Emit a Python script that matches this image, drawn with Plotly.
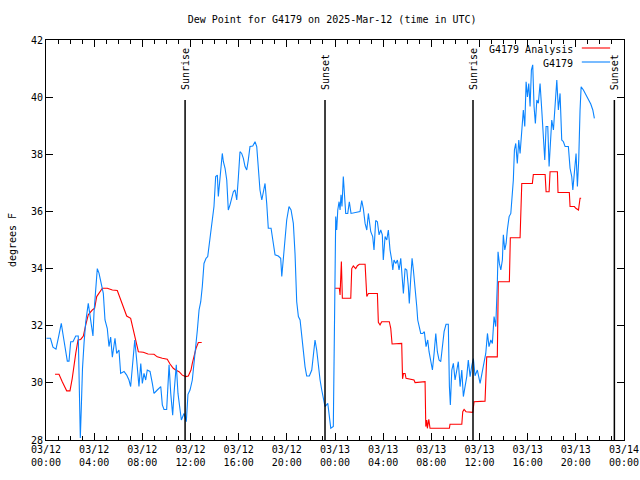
import pandas as pd
import plotly.graph_objects as go

# ---- data (hours after 2025-03-12 00:00 UTC, dew point in deg F) ----
obs_hours = [0.04, 0.37, 0.58, 0.83, 1.04, 1.27, 1.41, 1.58, 1.77, 1.91, 2.05, 2.24, 2.47, 2.68, 2.85, 2.93,
             3.03, 3.16, 3.30, 3.51, 3.71, 3.90, 3.99, 4.13, 4.26, 4.40, 4.54, 4.76, 4.90, 5.09, 5.23, 5.37,
             5.51, 5.73, 5.87, 6.06, 6.20, 6.48, 6.70, 6.89, 7.03, 7.17, 7.37, 7.53, 7.72, 7.87, 8.00, 8.14,
             8.28, 8.41, 8.64, 8.83, 8.97, 9.24, 9.53, 9.66, 9.80, 10.02, 10.22, 10.36, 10.52, 10.63, 10.82,
             10.96, 11.10, 11.24, 11.46, 11.65, 11.79, 11.96, 12.15, 12.27, 12.43, 12.57, 12.71, 12.85, 12.98,
             13.12, 13.29, 13.43, 13.62, 13.76, 13.95, 14.09, 14.23, 14.31, 14.45, 14.64, 14.73, 14.87, 15.01,
             15.14, 15.28, 15.42, 15.56, 15.70, 15.84, 15.97, 16.11, 16.25, 16.39, 16.53, 16.67, 16.80, 16.94,
             17.17, 17.36, 17.50, 17.63, 17.77, 17.92, 18.05, 18.19, 18.33, 18.46, 18.69, 18.88, 19.02, 19.29,
             19.49, 19.58, 19.71, 19.85, 19.99, 20.18, 20.35, 20.54, 20.68, 20.82, 20.96, 21.10, 21.24, 21.37,
             21.51, 21.65, 21.87, 22.07, 22.20, 22.34, 22.48, 22.62, 22.76, 22.90, 23.03, 23.17, 23.40, 23.53,
             23.65, 23.86, 23.92, 23.98, 24.06, 24.14, 24.23, 24.34, 24.42, 24.50, 24.58, 24.69, 24.78, 24.89,
             25.06, 25.19, 25.33, 26.08, 26.22, 26.35, 26.50, 26.64, 26.77, 26.85, 26.97, 27.13, 27.24, 27.38,
             27.52, 27.66, 27.80, 27.93, 28.01, 28.16, 28.30, 28.43, 28.57, 28.71, 28.80, 28.90, 29.05, 29.18,
             29.32, 29.46, 29.59, 29.68, 29.82, 29.96, 30.09, 30.17, 30.29, 30.40, 30.51, 30.65, 30.79, 30.87,
             30.98, 31.12, 31.29, 31.42, 31.56, 31.70, 31.81, 31.95, 32.09, 32.23, 32.37, 32.50, 32.64, 32.78,
             32.92, 33.06, 33.22, 33.41, 33.50, 33.58, 33.70, 33.83, 33.97, 34.11, 34.24, 34.39, 34.53, 34.66,
             34.80, 34.94, 35.07, 35.22, 35.36, 35.49, 35.63, 35.82, 36.05, 36.24, 36.38, 36.52, 36.66, 36.79,
             36.94, 37.07, 37.21, 37.35, 37.48, 37.54, 37.65, 37.77, 37.90, 37.98, 38.10, 38.21, 38.31, 38.46,
             38.60, 38.73, 38.81, 38.90, 39.01, 39.14, 39.26, 39.37, 39.51, 39.64, 39.76, 39.87, 39.98, 40.09,
             40.20, 40.31, 40.42, 40.53, 40.64, 40.76, 40.89, 41.03, 41.17, 41.30, 41.42, 41.53, 41.67, 41.78,
             41.89, 42.00, 42.14, 42.28, 42.42, 42.55, 42.69, 42.83, 42.97, 43.11, 43.38, 43.52, 43.66, 43.75,
             43.85, 44.02, 44.13, 44.24, 44.35, 44.44, 44.63, 44.85, 45.04, 45.24, 45.41, 45.54]
obs_dewpt = [31.56, 31.56, 31.25, 31.18, 31.6, 32.08, 31.7, 31.2, 30.76, 30.76, 31.44, 31.44, 31.64, 31.64, 28.07, 29.1,
             30.5, 31.4, 32.14, 32.78, 32.27, 31.64, 32.49, 33.13, 34.0, 33.84, 33.54, 33.13, 32.2, 31.9, 31.27, 31.6,
             30.9, 31.56, 31.03, 31.15, 30.33, 30.4, 30.27, 30.1, 29.87, 30.63, 31.5, 30.8, 29.87, 30.68, 29.98, 30.33,
             30.1, 30.45, 30.4, 29.98, 29.63, 29.75, 29.87, 29.23, 29.07, 29.07, 30.63, 29.63, 28.87, 29.63, 30.63,
             29.63, 29.17, 28.7, 28.93, 28.64, 29.6, 29.75, 30.1, 30.57, 31.27, 31.85, 32.55, 32.84, 33.37,
             34.18, 34.36, 34.42, 35.06, 35.47, 36.17, 37.22, 37.27, 36.52, 37.16, 38.03, 37.74, 37.51, 37.1,
             36.05, 36.23, 36.52, 36.69, 36.75, 36.4, 37.16, 38.09, 38.03, 37.86, 37.57, 37.45, 37.8, 38.27,
             38.29, 38.44, 38.27, 37.51, 36.75, 36.4, 36.75, 36.98, 36.28, 35.41, 35.41, 34.88, 34.48, 34.44,
             34.36, 33.72, 34.36, 34.88, 35.7, 36.17, 36.05, 35.58, 34.53, 32.84, 32.32, 32.2, 31.62, 31.03,
             30.57, 30.24, 30.24, 30.45, 30.91, 31.5, 31.15, 30.57, 30.1, 29.75, 29.4, 29.17, 29.28, 28.82,
             28.41, 28.47, 31.38, 34.88, 35.82, 35.35, 36.05, 36.34, 36.05, 36.58, 36.17, 37.22, 36.63, 35.93,
             35.93, 36.34, 35.93, 36.0, 36.38, 36.11, 35.58, 35.35, 35.93, 35.58, 35.29, 35.12, 34.65, 35.68,
             35.64, 35.18, 35.35, 35.18, 34.3, 35.12, 35.0, 35.35, 34.65, 34.3, 33.95, 34.3, 34.18, 34.3,
             33.95, 34.36, 33.72, 33.13, 34.0, 33.95, 33.37, 32.78, 33.66, 34.36, 33.95, 33.37, 32.67, 32.2,
             32.03, 31.73, 31.73, 31.79, 31.27, 31.5, 31.09, 30.8, 30.45, 31.03, 31.73, 31.09, 30.8, 30.74,
             31.38, 31.79, 32.05, 32.05, 29.87, 29.23, 30.45, 30.68, 30.1, 30.45, 30.74, 29.87, 30.45, 29.52,
             29.87, 30.22, 30.8, 30.22, 30.6, 30.85, 30.25, 30.45, 29.98, 30.45, 30.68, 31.03, 31.73, 31.27,
             31.5, 31.38, 32.32, 31.97, 33.48, 34.59, 34.18, 33.95, 34.3, 35.18, 34.65, 34.88, 35.35, 35.82,
             35.93, 36.52, 37.1, 38.15, 38.38, 37.68, 38.5, 38.03, 38.68, 39.55, 38.97, 40.54, 40.01, 40.48,
             39.67, 40.95, 41.13, 39.67, 39.08, 39.9, 39.79, 40.48, 39.55, 38.5, 37.8, 38.97, 38.97, 37.57,
             38.27, 39.2, 38.85, 39.61, 40.6, 39.55, 40.13, 38.5, 38.44, 38.27, 38.27, 37.51, 37.22, 36.75,
             37.33, 38.03, 36.87, 37.8, 39.55, 40.36, 40.25, 40.08, 39.9, 39.76, 39.55, 39.26]

ana_hours = [0.75, 1.08, 1.35, 1.72, 1.99, 2.18, 2.47, 2.66, 2.88, 3.10, 3.30, 3.51, 3.85, 4.04, 4.21, 4.40,
             4.68, 5.09, 5.51, 5.92, 6.20, 6.48, 6.70, 7.03, 7.25, 7.37, 7.53, 7.67, 8.08, 8.47, 8.97, 9.24,
             9.66, 10.07, 10.30, 10.57, 10.77, 11.05, 11.32, 11.60, 11.82, 12.04, 12.15, 12.32, 12.46, 12.65,
             12.93, 18.00,
             24.00, 24.36, 24.42, 24.53, 24.61, 25.31, 25.39, 25.52, 25.72, 25.86, 26.02, 26.50, 26.64, 26.77,
             27.52, 27.60, 27.74, 27.88, 28.51, 28.63, 28.74, 29.54, 29.61, 29.69, 29.82, 29.90, 30.56, 30.65,
             31.48, 31.54, 31.62, 31.67, 31.79, 31.89, 33.50, 33.55, 34.53, 34.61, 34.72, 34.88, 35.44, 35.55,
             36.46, 36.54, 36.60, 37.48, 37.56, 38.48, 38.56, 39.37, 39.45, 39.51, 40.39, 40.47, 41.45, 41.53,
             41.78, 41.86, 42.47, 42.52, 43.46, 43.52, 43.88, 44.00, 44.22, 44.30, 44.35, 44.44]
ana_dewpt = [30.3, 30.3, 30.04, 29.72, 29.72, 30.16, 31.03, 31.5, 31.52, 31.64, 32.03, 32.38, 32.55, 32.61, 33.02, 33.13,
             33.31, 33.31, 33.25, 33.23, 32.9, 32.61, 32.34, 32.26, 31.85, 31.59, 31.24, 31.09, 31.07, 31.01, 31.0, 30.91,
             30.86, 30.83, 30.66, 30.51, 30.45, 30.39, 30.27, 30.22, 30.24, 30.45, 30.68, 30.98, 31.21, 31.41,
             31.41, None,
             33.31, 33.31, 33.08, 34.25, 32.96, 32.96, 34.0, 34.09, 34.0, 34.1, 34.15, 34.15, 33.02, 33.13,
             33.13, 32.12, 32.03, 32.14, 32.14, 31.91, 31.36, 31.38, 30.14, 30.33, 30.33, 30.16, 30.1, 30.01,
             30.04, 28.47, 28.7, 28.41, 28.72, 28.41, 28.41, 28.55, 28.55, 28.99, 29.07, 28.99, 28.97, 29.34,
             29.36, 30.45, 30.91, 30.91, 33.54, 33.54, 35.08, 35.08, 36.05, 36.98, 36.98, 37.29, 37.29, 36.69,
             36.69, 37.39, 37.39, 36.66, 36.66, 36.17, 36.17, 36.11, 36.05, 36.28, 36.46, 36.46]

sun_hours = [11.55, 23.17, 35.46, 47.2]
sun_labels = ["Sunrise", "Sunset", "Sunrise", "Sunset"]

series_names = ["G4179 Analysis", "G4179"]
series_colors = ["#ff0000", "#0a84ff"]

base = pd.Timestamp("2025-03-12 00:00")
to_time = lambda hrs: [base + pd.Timedelta(hours=h) for h in hrs]

FONT = "DejaVu Sans Mono"
fig = go.Figure()
fig.add_trace(go.Scatter(x=to_time(ana_hours), y=ana_dewpt, mode="lines", name=series_names[0],
                         line=dict(color=series_colors[0], width=1.1), connectgaps=False))
fig.add_trace(go.Scatter(x=to_time(obs_hours), y=obs_dewpt, mode="lines", name=series_names[1],
                         line=dict(color=series_colors[1], width=1.1)))

for h, lab in zip(sun_hours, sun_labels):
    t = base + pd.Timedelta(hours=h)
    fig.add_shape(type="line", xref="x", yref="y domain", x0=t, x1=t, y0=0, y1=0.85,
                  line=dict(color="black", width=1.5))
    fig.add_annotation(x=t, xref="x", y=0.87, yref="y domain", text=lab, textangle=-90,
                       showarrow=False, xanchor="center", yanchor="bottom",
                       font=dict(family=FONT, size=10, color="black"))

# manual legend (text left of the line sample, gnuplot style)
for i, (nm, col) in enumerate(zip(series_names, series_colors)):
    yy = 0.976 - i * 0.035
    fig.add_annotation(x=0.915, y=yy, xref="paper", yref="paper", text=nm, showarrow=False,
                       xanchor="right", yanchor="middle", font=dict(family=FONT, size=10, color="black"))
    fig.add_shape(type="line", xref="paper", yref="paper", x0=0.927, x1=0.976, y0=yy + 0.004, y1=yy + 0.004,
                  line=dict(color=col, width=1.1))

fig.update_layout(
    width=640, height=480,
    margin=dict(l=46, r=16, t=40, b=40, autoexpand=False),
    paper_bgcolor="white", plot_bgcolor="white",
    showlegend=False,
    font=dict(family=FONT, size=10, color="black"),
    title=dict(text="Dew Point for G4179 on 2025-Mar-12 (time in UTC)", x=0.519, xanchor="center",
               y=1 - 19 / 480, yanchor="middle", yref="container", automargin=False,
               font=dict(family=FONT, size=10, color="black")),
)
fig.update_xaxes(
    type="date", range=[base, base + pd.Timedelta(hours=48)], automargin=False,
    dtick=4 * 3600000, tick0=base, tickformat="%m/%d<br>%H:%M",
    showline=True, linecolor="black", linewidth=1, mirror="ticks",
    ticks="inside", ticklen=7, tickcolor="black", showgrid=False, zeroline=False,
    minor=dict(dtick=3600000, ticks="inside", ticklen=4, tickcolor="black", showgrid=False),
    tickfont=dict(family=FONT, size=10, color="black"),
)
fig.update_yaxes(
    range=[28, 42], dtick=2, showline=True, linecolor="black", linewidth=1, mirror="ticks",
    ticks="inside", ticklen=7, tickcolor="black", showgrid=False, zeroline=False, automargin=False,
    title=dict(text="degrees F", font=dict(family=FONT, size=10, color="black"), standoff=12),
    tickfont=dict(family=FONT, size=10, color="black"),
)

fig.write_html("out.html", config={"displayModeBar": False},
               post_script="document.body.style.margin='0px';")
